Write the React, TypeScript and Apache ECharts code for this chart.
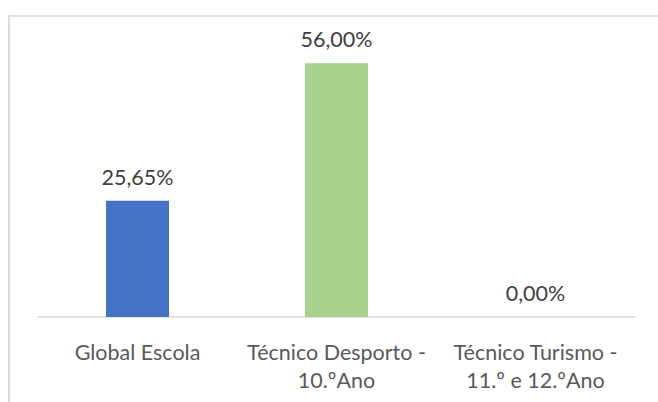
import React, { useEffect, useRef } from "react";
import * as echarts from "echarts";

const categories = ["Global Escola", "Técnico Desporto -\n10.ºAno", "Técnico Turismo -\n11.º e 12.ºAno"];
const values = [25.65, 56.0, 0.0];
const colors = ["#4472C4", "#A9D18E", "#A5A5A5"];

const fmt = (v: number) => v.toFixed(2).replace(".", ",") + "%";

export default function App() {
  const ref = useRef<HTMLDivElement>(null);
  useEffect(() => {
    document.body.style.margin = "0";
    const chart = echarts.init(ref.current!, null, { renderer: "svg" });
    chart.setOption({
      animation: false,
      backgroundColor: "#ffffff",
      grid: { left: 38, right: 23, top: 45, bottom: 85 },
      xAxis: {
        type: "category",
        data: categories,
        axisLine: { lineStyle: { color: "#D9D9D9", width: 1.5 } },
        axisTick: { show: false },
        axisLabel: {
          color: "#595959",
          fontFamily: "Lato",
          fontSize: 21.5,
          lineHeight: 28,
          margin: 21,
          interval: 0,
        },
      },
      yAxis: { type: "value", min: 0, max: 60, show: false, splitLine: { show: false } },
      graphic: [
        { type: "line", shape: { x1: 8, y1: 16, x2: 660, y2: 16 }, style: { stroke: "#D9D9D9", lineWidth: 1.7 } },
        { type: "line", shape: { x1: 9, y1: 15, x2: 9, y2: 410 }, style: { stroke: "#D9D9D9", lineWidth: 1.7 } },
      ],
      series: [
        {
          type: "bar",
          barWidth: 63,
          data: values.map((v, i) => ({ value: v, itemStyle: { color: colors[i] } })),
          label: {
            show: true,
            position: "top",
            distance: 13,
            color: "#404040",
            fontFamily: "Lato",
            fontSize: 21.5,
            formatter: (p: any) => fmt(p.value),
          },
        },
      ],
    });
    return () => chart.dispose();
  }, []);
  return <div ref={ref} style={{ position: "fixed", left: 0, top: 0, width: 658, height: 402 }} />;
}
